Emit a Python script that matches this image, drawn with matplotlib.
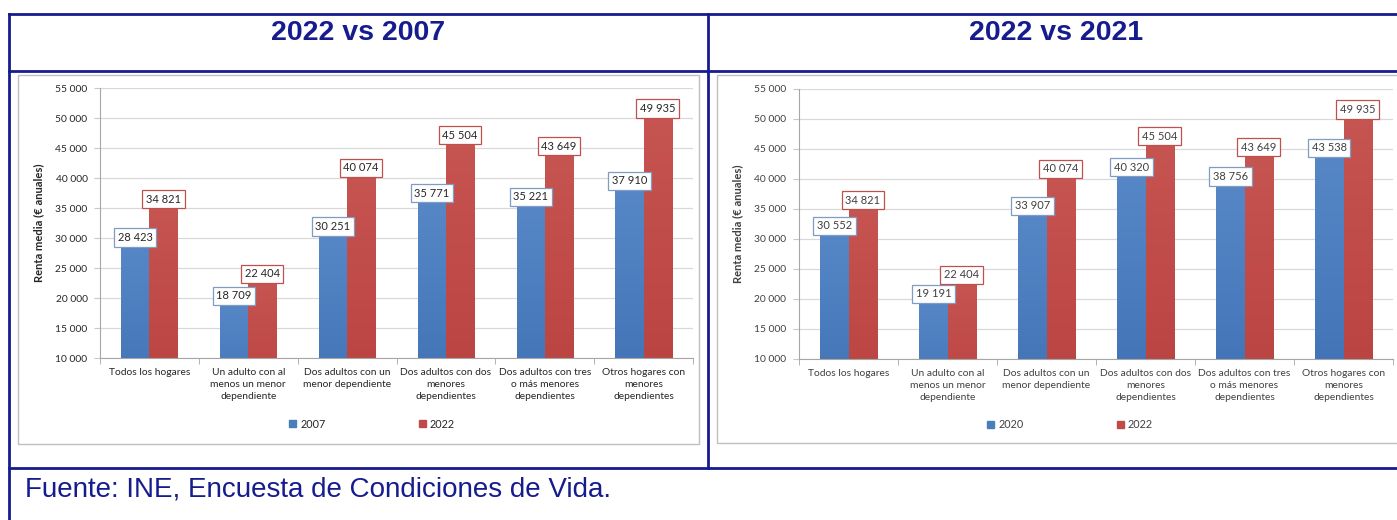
#!/usr/bin/env python
"""
Renta media por tipo de hogar: 2022 vs 2007 y 2022 vs 2021 (INE, ECV).
"""

import matplotlib.pyplot as plt
import numpy as np
from matplotlib.colors import LinearSegmentedColormap
from matplotlib.patches import Patch, Rectangle

W, H = 1397, 520

categories = [
    "Todos los hogares",
    "Un adulto con al\nmenos un menor\ndependiente",
    "Dos adultos con un\nmenor dependiente",
    "Dos adultos con dos\nmenores\ndependientes",
    "Dos adultos con tres\no más menores\ndependientes",
    "Otros hogares con\nmenores\ndependientes",
]
renta_2007 = [28423, 18709, 30251, 35771, 35221, 37910]
renta_2020 = [30552, 19191, 33907, 40320, 38756, 43538]
renta_2022 = [34821, 22404, 40074, 45504, 43649, 49935]
y_ticks = list(range(10000, 55001, 5000))

NAVY = "#161C8E"
BLUE = "#4A7EBB"
RED = "#BE4B48"
CHART_FONT = ["Lato", "DejaVu Sans"]

# vertical shading of the bars (bottom -> top)
BLUE_CMAP = LinearSegmentedColormap.from_list("b", ["#3C6DB2", "#4A7CBD", "#5686C6"])
RED_CMAP = LinearSegmentedColormap.from_list("r", ["#B7413E", "#BF4A47", "#C65451"])


def fmt(v):
    return f"{v:,}".replace(",", " ")


def px_axes(fig, x0, y0, x1, y1):
    return fig.add_axes([x0 / W, 1 - y1 / H, (x1 - x0) / W, (y1 - y0) / H])


def shade_bars(ax, bars, cmap):
    grad = np.linspace(0, 1, 64).reshape(-1, 1)
    for b in bars:
        x0, y0 = b.get_x(), b.get_y()
        ax.imshow(grad, cmap=cmap, origin="lower", aspect="auto", zorder=2.5,
                  extent=[x0, x0 + b.get_width(), y0, y0 + b.get_height()])


def draw_chart(fig, box, serie_a, serie_b, names, legend_xy, text_color):
    ax = px_axes(fig, *box)
    x = np.arange(len(categories))
    w = 0.285
    bars_a = ax.bar(x - w / 2, serie_a, w, color=BLUE, zorder=2)
    bars_b = ax.bar(x + w / 2, serie_b, w, color=RED, zorder=2)
    shade_bars(ax, bars_a, BLUE_CMAP)
    shade_bars(ax, bars_b, RED_CMAP)

    for xi, v in zip(x - w / 2, serie_a):
        ax.annotate(fmt(v), (xi, v), xytext=(0, 3.2), textcoords="offset points",
                    ha="center", va="bottom", fontsize=8, color=text_color,
                    family=CHART_FONT, zorder=5,
                    bbox=dict(boxstyle="square,pad=0.32", fc="white", ec="#7F9CC4", lw=0.9))
    for xi, v in zip(x + w / 2, serie_b):
        ax.annotate(fmt(v), (xi, v), xytext=(0, 3.2), textcoords="offset points",
                    ha="center", va="bottom", fontsize=8, color=text_color,
                    family=CHART_FONT, zorder=5,
                    bbox=dict(boxstyle="square,pad=0.32", fc="white", ec="#C0504D", lw=0.9))

    ax.set_xlim(-0.5, len(categories) - 0.5)
    ax.set_ylim(10000, 55000)
    ax.set_yticks(y_ticks)
    ax.set_yticklabels([fmt(t) for t in y_ticks], family=CHART_FONT, fontsize=7.4, color=text_color)
    ax.set_xticks(x)
    ax.set_xticklabels(categories, family=CHART_FONT, fontsize=7.4, color=text_color,
                       linespacing=1.42, va="top")
    ax.set_xticks(np.arange(len(categories) + 1) - 0.5, minor=True)
    ax.tick_params(axis="x", which="major", length=0, pad=7)
    ax.tick_params(axis="x", which="minor", length=4, color="#A6A6A6")
    ax.tick_params(axis="y", length=4, color="#C8C8C8", pad=5)
    ax.grid(axis="y", color="#D9D9D9", lw=0.9, zorder=0)
    ax.set_axisbelow(True)
    for s in ("top", "right"):
        ax.spines[s].set_visible(False)
    for s in ("left", "bottom"):
        ax.spines[s].set_color("#A6A6A6")
        ax.spines[s].set_linewidth(0.8)

    ax.set_ylabel("Renta media (€ anuales)", family=CHART_FONT, fontsize=8,
                  fontweight="bold", color=text_color)
    ax.yaxis.set_label_coords(-0.094, 0.5)

    handles = [Patch(color=BLUE), Patch(color=RED)]
    ax.legend(handles, names, loc="center", ncol=2, frameon=False,
              bbox_to_anchor=(legend_xy[0] / W, 1 - legend_xy[1] / H),
              bbox_transform=fig.transFigure, prop={"family": CHART_FONT, "size": 7.8},
              handlelength=0.65, handleheight=0.65, handletextpad=0.4, columnspacing=8.6,
              labelcolor=text_color)
    return ax


fig = plt.figure(figsize=(W / 100, H / 100), dpi=100)

# table frame drawn in pixel coordinates
bg = fig.add_axes([0, 0, 1, 1])
bg.set_xlim(0, W)
bg.set_ylim(H, 0)
bg.axis("off")

bg.add_patch(Rectangle((18, 75), 681, 369, fc="white", ec="#BFBFBF", lw=1))
bg.add_patch(Rectangle((717, 75), 700, 368, fc="white", ec="#BFBFBF", lw=1))

lw = 2
bg.plot([9, W], [14, 14], color=NAVY, lw=lw)
bg.plot([9, W], [71, 71], color=NAVY, lw=lw)
bg.plot([9, W], [468, 468], color=NAVY, lw=lw)
bg.plot([9, 9], [14, H], color=NAVY, lw=lw)
bg.plot([708, 708], [14, 468], color=NAVY, lw=lw)

bg.text(358, 33, "2022 vs 2007", ha="center", va="center", fontsize=20.5,
        fontweight="bold", color=NAVY, family="Liberation Sans")
bg.text(1056, 33, "2022 vs 2021", ha="center", va="center", fontsize=20.5,
        fontweight="bold", color=NAVY, family="Liberation Sans")
bg.text(25, 489, "Fuente: INE, Encuesta de Condiciones de Vida.", ha="left", va="center",
        fontsize=20, color=NAVY, family="Liberation Sans")

draw_chart(fig, (100, 88, 693, 358), renta_2007, renta_2022, ["2007", "2022"],
           (372, 424), "#262626")
draw_chart(fig, (799, 89, 1393, 359), renta_2020, renta_2022, ["2020", "2022"],
           (1070, 425), "#404040")

fig.savefig("out.png", dpi=100)
